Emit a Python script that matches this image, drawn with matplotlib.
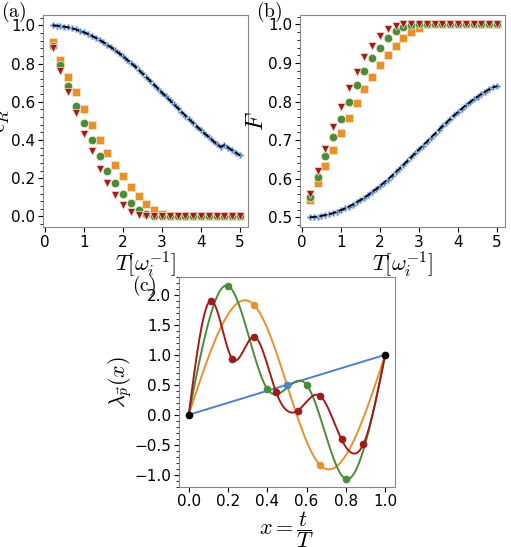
import numpy as np
import matplotlib
matplotlib.use("Agg")
import matplotlib.pyplot as plt
from matplotlib.ticker import AutoMinorLocator

plt.rcParams['mathtext.fontset'] = 'cm'

# ---- data ----
T_blue = [0.2,0.3,0.4,0.5,0.6,0.7,0.8,0.9,1.0,1.1,1.2,1.3,1.4,1.5,1.6,1.7,1.8,1.9,2.0,
          2.1,2.2,2.3,2.4,2.5,2.6,2.7,2.8,2.9,3.0,3.1,3.2,3.3,3.4,3.5,3.6,3.7,3.8,3.9,4.0,
          4.1,4.2,4.3,4.4,4.5,4.6,4.7,4.8,4.9,5.0]
eps_blue = [1.0,0.998,0.996,0.993,0.989,0.984,0.978,0.971,0.963,0.955,0.945,0.935,0.923,0.911,
            0.898,0.884,0.869,0.854,0.838,0.821,0.804,0.786,0.767,0.748,0.729,0.709,0.689,0.669,
            0.648,0.628,0.608,0.588,0.568,0.548,0.528,0.508,0.489,0.470,0.451,0.433,0.415,0.397,
            0.380,0.364,0.348,0.333,0.319,0.306,0.320]
eps_blue = eps_blue[:-1] + [0.320]
eps_blue[-2] = 0.333; eps_blue[-3] = 0.346; eps_blue[-4] = 0.360; eps_blue[-5] = 0.374
T = [0.2,0.4,0.6,0.8,1.0,1.2,1.4,1.6,1.8,2.0,2.2,2.4,2.6,2.8,3.0,3.2,3.4,3.6,3.8,4.0,4.2,4.4,4.6,4.8,5.0]
eps_orange = [0.91,0.82,0.73,0.65,0.56,0.48,0.40,0.33,0.27,0.21,0.155,0.105,0.065,0.035,0.015,0,0,0,0,0,0,0,0,0,0]
eps_green = [0.89,0.79,0.68,0.58,0.49,0.40,0.315,0.24,0.175,0.12,0.07,0.035,0.012,0.002,0,0,0,0,0,0,0,0,0,0,0]
eps_red = [0.88,0.76,0.65,0.54,0.43,0.34,0.25,0.175,0.11,0.06,0.025,0.008,0.002,0,0,0,0,0,0,0,0,0,0,0,0]
F_blue = [0.500,0.501,0.502,0.504,0.506,0.508,0.511,0.515,0.519,0.523,0.528,0.533,0.539,0.545,
          0.551,0.558,0.566,0.573,0.581,0.590,0.598,0.607,0.617,0.626,0.636,0.646,0.656,0.666,
          0.676,0.686,0.696,0.706,0.716,0.726,0.736,0.745,0.755,0.764,0.773,0.782,0.790,0.798,
          0.806,0.813,0.820,0.826,0.832,0.837,0.840]
F_orange = [0.545,0.590,0.633,0.675,0.718,0.758,0.797,0.832,0.865,0.895,0.922,0.945,0.965,0.980,0.990,1,1,1,1,1,1,1,1,1,1]
F_green = [0.553,0.605,0.658,0.708,0.755,0.800,0.842,0.880,0.912,0.940,0.965,0.982,0.994,0.999,1,1,1,1,1,1,1,1,1,1,1]
F_red = [0.560,0.620,0.678,0.733,0.787,0.835,0.877,0.915,0.945,0.970,0.988,0.997,1,1,1,1,1,1,1,1,1,1,1,1,1]

x_blue = [0, 0.5, 1]; y_blue = [0, 0.5, 1]
x_orange = [0, 1/3, 2/3, 1]; y_orange = [0, 1.83, -0.83, 1]
x_green = [0, 0.2, 0.4, 0.6, 0.8, 1]; y_green = [0, 2.15, 0.43, 0.50, -1.07, 1]
x_red = [0, 1/9, 2/9, 3/9, 4/9, 5/9, 6/9, 7/9, 8/9, 1]
y_red = [0, 1.90, 0.93, 1.30, 0.38, 0.07, 0.32, -0.41, -0.49, 1]

C_BLUE = '#4f81c7'; C_OR = '#e8902c'; C_GR = '#4a8c3a'; C_RED = '#a01c1c'

def spline(xk, yk, xs):
    xk = np.asarray(xk, float); yk = np.asarray(yk, float)
    n = len(xk); h = np.diff(xk)
    A = np.zeros((n, n)); b = np.zeros(n)
    A[0, 0] = A[-1, -1] = 1
    for i in range(1, n-1):
        A[i, i-1] = h[i-1]; A[i, i] = 2*(h[i-1]+h[i]); A[i, i+1] = h[i]
        b[i] = 3*((yk[i+1]-yk[i])/h[i] - (yk[i]-yk[i-1])/h[i-1])
    c = np.linalg.solve(A, b)
    out = np.empty_like(xs)
    for j, x in enumerate(xs):
        i = min(np.searchsorted(xk, x, side='right')-1, n-2)
        dx = x - xk[i]
        bb = (yk[i+1]-yk[i])/h[i] - h[i]*(2*c[i]+c[i+1])/3
        d = (c[i+1]-c[i])/(3*h[i])
        out[j] = yk[i] + bb*dx + c[i]*dx**2 + d*dx**3
    return out

fig = plt.figure(figsize=(5.11, 5.47), dpi=100)
axa = fig.add_axes([0.084, 0.585, 0.401, 0.388])
axb = fig.add_axes([0.587, 0.585, 0.401, 0.388])
axc = fig.add_axes([0.350, 0.110, 0.423, 0.384])

def style(ax):
    for s in ax.spines.values():
        s.set_color('#888888')
    ax.yaxis.set_minor_locator(AutoMinorLocator(5))
    ax.tick_params(labelsize=11, pad=2)

mk = dict(linestyle='none', markersize=6, markeredgecolor='#f5e6cc', markeredgewidth=0.5)
for ax, yb, yo, yg, yr, lab in [(axa, eps_blue, eps_orange, eps_green, eps_red, r'$\epsilon_R$'),
                                (axb, F_blue, F_orange, F_green, F_red, r'$F$')]:
    ax.plot(T, yo, marker='s', color=C_OR, **mk)
    ax.plot(T, yg, marker='o', color=C_GR, **mk)
    ax.plot(T, yr, marker='v', color=C_RED, **mk)
    ax.plot(T_blue, yb, marker='P', color=C_BLUE, linestyle='none', markersize=5, markeredgecolor='#b8cde8', markeredgewidth=0.5)
    ax.plot(T_blue, yb, color='black', linestyle='--', dashes=(4, 1.5), lw=1.3)
    ax.set_xlabel(r'$T[\omega_i^{-1}]$', fontsize=16, labelpad=0)
    ax.set_ylabel(lab, fontsize=17, labelpad=0)
    ax.set_xlim(-0.05, 5.2)
    ax.set_xticks([0, 1, 2, 3, 4, 5])
    style(ax)
axa.set_ylim(-0.055, 1.055)
axb.set_ylim(0.475, 1.025)
fig.text(0.002, 0.978, r'$\mathrm{(a)}$', fontsize=14, va='center')
fig.text(0.500, 0.978, r'$\mathrm{(b)}$', fontsize=14, va='center')
fig.text(0.258, 0.478, r'$\mathrm{(c)}$', fontsize=14, va='center')

xs = np.linspace(0, 1, 400)
axc.plot(x_blue, y_blue, color=C_BLUE, lw=1.4)
axc.plot(xs, spline(x_orange, y_orange, xs), color=C_OR, lw=1.4)
axc.plot(xs, spline(x_green, y_green, xs), color=C_GR, lw=1.4)
axc.plot(xs, spline(x_red, y_red, xs), color=C_RED, lw=1.4)
axc.plot(x_blue[1:-1], y_blue[1:-1], 'o', color=C_BLUE, ms=4.5)
axc.plot(x_orange[1:-1], y_orange[1:-1], 'o', color=C_OR, ms=4.5)
axc.plot(x_green[1:-1], y_green[1:-1], 'o', color=C_GR, ms=4.5)
axc.plot(x_red[1:-1], y_red[1:-1], 'o', color=C_RED, ms=4.5)
axc.plot([0, 1], [0, 1], 'o', color='black', ms=4.5, zorder=5)
axc.set_xlim(-0.05, 1.05)
axc.set_ylim(-1.2, 2.3)
axc.set_yticks([-1.0, -0.5, 0.0, 0.5, 1.0, 1.5, 2.0])
axc.set_xticks([0, 0.2, 0.4, 0.6, 0.8, 1.0])
axc.set_xlabel(r'$x=\dfrac{t}{T}$', fontsize=16, labelpad=0)
axc.set_ylabel(r'$\lambda_{\vec{p}}(x)$', fontsize=16, labelpad=0)
style(axc)

fig.savefig('out.png', dpi=100)
